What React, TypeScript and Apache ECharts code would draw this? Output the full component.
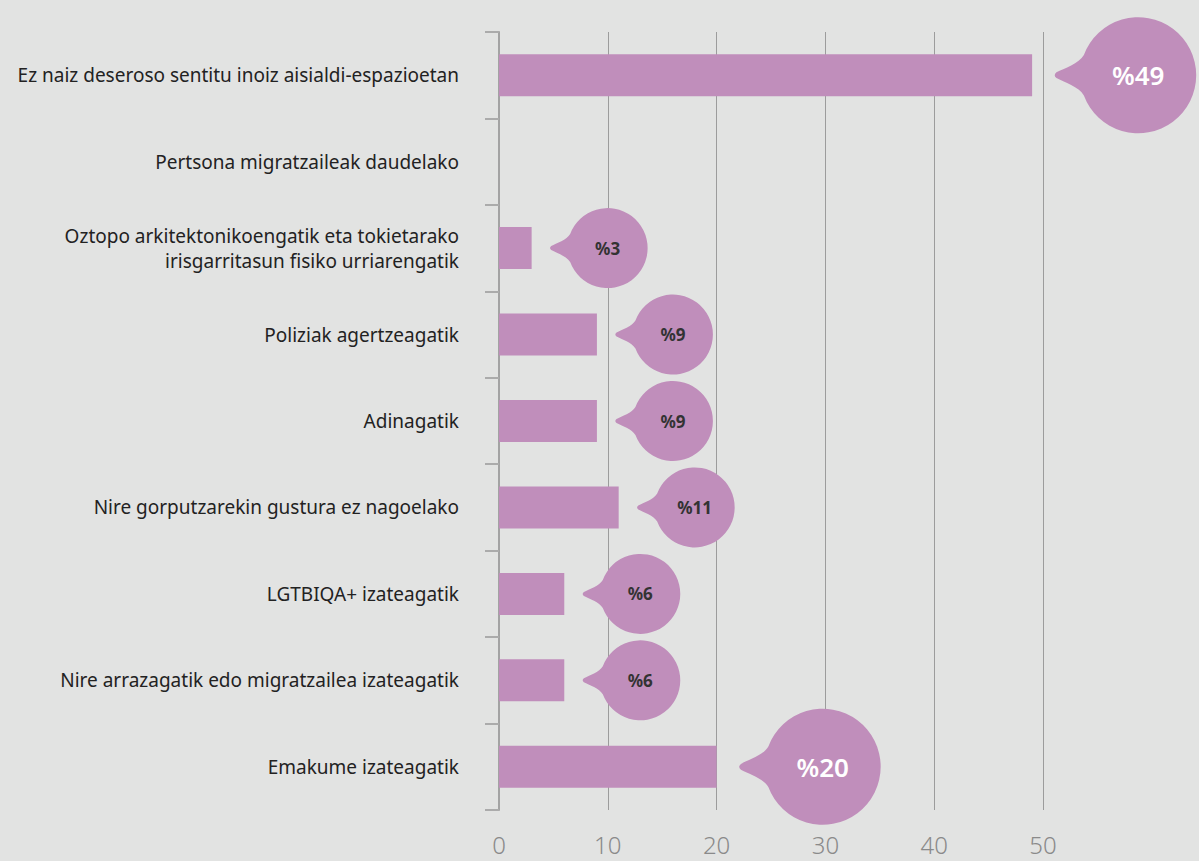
import React, { useEffect, useRef } from "react";
import * as echarts from "echarts";

const categories = [
  "Ez naiz deseroso sentitu inoiz aisialdi-espazioetan",
  "Pertsona migratzaileak daudelako",
  "Oztopo arkitektonikoengatik eta tokietarako\nirisgarritasun fisiko urriarengatik",
  "Poliziak agertzeagatik",
  "Adinagatik",
  "Nire gorputzarekin gustura ez nagoelako",
  "LGTBIQA+ izateagatik",
  "Nire arrazagatik edo migratzailea izateagatik",
  "Emakume izateagatik",
];
const values = [49, 0, 3, 9, 9, 11, 6, 6, 20];
const highlighted = [true, false, false, false, false, false, false, false, true];
const xMin = 0;
const xMax = 50;
const xInterval = 10;

const BG = "#e2e3e2";
const BAR = "#c08ebb";

export default function App() {
  const ref = useRef<HTMLDivElement>(null);
  useEffect(() => {
    if (!ref.current) return;
    const chart = echarts.init(ref.current, null, { renderer: "svg" });
    const bubbleData = values.map((v, i) => [v, i, highlighted[i] ? 1 : 0]);
    chart.setOption({
      animation: false,
      backgroundColor: BG,
      grid: { left: 499, right: 156, top: 32, bottom: 51, containLabel: false },
      xAxis: {
        type: "value",
        min: xMin,
        max: xMax,
        interval: xInterval,
        axisLine: { show: false },
        axisTick: { show: false },
        splitLine: { show: true, lineStyle: { color: "#9c9c9c", width: 1 } },
        axisLabel: {
          color: "#8a8a8a",
          fontSize: 24,
          lineHeight: 24,
          fontFamily: "Noto Sans",
          fontWeight: 300,
          margin: 22,
        },
      },
      yAxis: {
        type: "category",
        data: categories,
        inverse: true,
        axisLine: { show: true, lineStyle: { color: "#a3a3a3", width: 2 } },
        axisTick: { show: true, length: 14, lineStyle: { color: "#ababab", width: 2 } },
        axisLabel: {
          color: "#222",
          fontSize: 19,
          fontFamily: "Noto Sans",
          margin: 40,
          lineHeight: 25,
          align: "right",
        },
      },
      series: [
        {
          type: "bar",
          data: values,
          barWidth: 42,
          itemStyle: { color: BAR },
          silent: true,
        },
        {
          type: "custom",
          clip: false,
          data: bubbleData,
          encode: { x: 0, y: 1 },
          renderItem: (params: any, api: any) => {
            const v = api.value(0);
            const idx = api.value(1);
            const big = api.value(2) === 1;
            if (!v) return null;
            const end = api.coord([v, idx]);
            const r = big ? 58 : 40;
            const gap = big ? 22 : 18;
            const cx = end[0] + gap + 1.45 * r;
            const cy = end[1];
            const p = (dx: number, dy: number) =>
              `${(cx + dx * r).toFixed(2)} ${(cy + dy * r).toFixed(2)}`;
            const d =
              `M ${p(-0.937, -0.35)} A ${r} ${r} 0 1 1 ${p(-0.937, 0.35)} ` +
              `C ${p(-1.02, 0.2)} ${p(-1.28, 0.12)} ${p(-1.41, 0.05)} ` +
              `Q ${p(-1.47, 0)} ${p(-1.41, -0.05)} ` +
              `C ${p(-1.28, -0.12)} ${p(-1.02, -0.2)} ${p(-0.937, -0.35)} Z`;
            return {
              type: "group",
              children: [
                {
                  type: "path",
                  shape: { pathData: d },
                  style: { fill: BAR },
                },
                {
                  type: "text",
                  style: {
                    text: "%" + v,
                    x: cx,
                    y: cy,
                    align: "center",
                    verticalAlign: "middle",
                    fill: big ? "#ffffff" : "#333333",
                    fontSize: big ? 26 : 17,
                    fontWeight: big ? 600 : "bold",
                    fontFamily: "Noto Sans",
                  },
                },
              ],
            };
          },
        },
      ],
    });
    return () => chart.dispose();
  }, []);
  return (
    <div
      ref={ref}
      style={{ position: "fixed", left: 0, top: 0, width: 1199, height: 861, background: BG }}
    />
  );
}
